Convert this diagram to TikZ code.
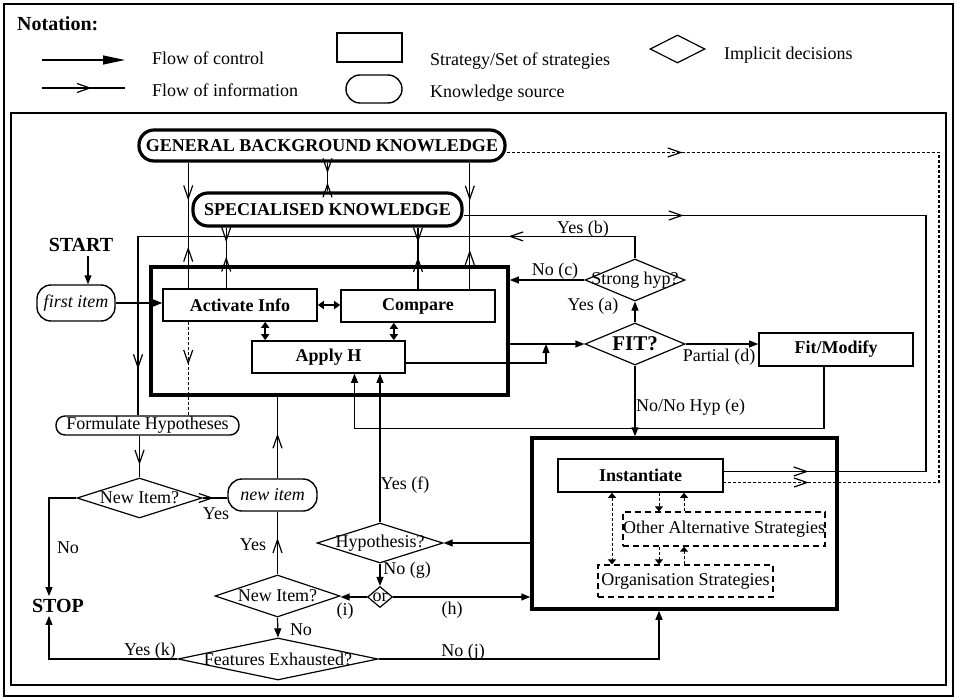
\documentclass[tikz,border=0pt]{standalone}
\usepackage{fontspec}
\setmainfont{Liberation Serif}
\usetikzlibrary{arrows.meta,shapes.geometric,decorations.markings}

\newcommand{\diafont}{\fontsize{18}{21}\selectfont}

\tikzset{
  every node/.style={font=\diafont, inner sep=0pt},
  ctl/.tip={Triangle[length=9pt,width=7pt]},
  bt/.tip={Triangle[length=6pt,width=8pt]},
  inf/.tip={Straight Barb[length=13pt,width=9pt]},
  small/.tip={Triangle[length=5pt,width=8pt]},
  flow/.style={line width=1.2pt},
  ctrl/.style={flow, -{ctl}},
  both/.style={line width=2pt, {bt}-{bt}},
  dashpat/.style={dash pattern=on 3pt off 2pt},
  fwd/.style={postaction={solid,decorate,decoration={markings,mark=at position #1 with {\arrow{inf}}}}},
  bwd/.style={postaction={solid,decorate,decoration={markings,mark=at position #1 with {\arrowreversed{inf}}}}},
  strat/.style={draw, line width=1.6pt, font=\diafont\bfseries},
  stratset/.style={draw, line width=3.5pt},
  altstrat/.style={draw, line width=1.2pt, dash pattern=on 6pt off 4pt},
  ksrc/.style={draw, line width=1.4pt, rounded corners=14pt},
  kbase/.style={draw, line width=3.2pt, rounded corners=15pt, font=\diafont\bfseries},
  decide/.style={draw, shape=diamond, line width=1.2pt}
}

\begin{document}
\begin{tikzpicture}[x=1pt,y=-1pt]
  \useasboundingbox (0,0) rectangle (956,698);

  % frames
  \draw[line width=2pt] (4,4) rectangle (953,696);
  \draw[line width=1.5pt] (11,113) rectangle (946,685);

  % notation
  \node[anchor=west, font=\fontsize{20}{22}\selectfont\bfseries] (nothead) at (17,24) {Notation:};
  \coordinate (ctlA) at (42,60);
  \coordinate (ctlB) at (125,60);
  \coordinate (infA) at (42,88);
  \coordinate (infB) at (125,88);
  \draw[flow, -{Triangle[length=22pt,width=9pt]}] (ctlA) -- (ctlB);
  \draw[flow, fwd=0.6] (infA) -- (infB);
  \node[anchor=west] (nctl) at (152,58) {Flow of control};
  \node[anchor=west] (ninf) at (152,90) {Flow of information};
  \node[draw, line width=1.2pt, minimum width=65pt, minimum height=29pt] (nstrat) at (369.5,47.5) {};
  \node[anchor=west] (nstrattxt) at (430,61) {Strategy/Set of strategies};
  \node[ksrc, minimum width=56pt, minimum height=28pt] (nksrc) at (374,89) {};
  \node[anchor=west] (nksrctxt) at (430,93) {Knowledge source};
  \node[decide, minimum width=55pt, minimum height=28pt] (ndec) at (677.5,49) {};
  \node[anchor=west] (ndectxt) at (724,55) {Implicit decisions};

  % knowledge sources
  \node[kbase, minimum width=366pt, minimum height=31pt] (genknow) at (322,145.5) {GENERAL BACKGROUND KNOWLEDGE};
  \node[kbase, minimum width=269pt, minimum height=33pt] (specknow) at (327.5,209.5) {SPECIALISED KNOWLEDGE};

  % sets of strategies
  \node[stratset, minimum width=357pt, minimum height=128pt] (stratA) at (329.5,331) {};
  \node[stratset, minimum width=305pt, minimum height=171pt] (stratB) at (684.5,523.5) {};

  % strategies
  \node[strat, minimum width=154pt, minimum height=32pt] (activate) at (240,305) {Activate Info};
  \node[strat, minimum width=154pt, minimum height=32pt] (compare) at (418,306) {Compare};
  \node[strat, minimum width=153pt, minimum height=32pt] (applyh) at (328.5,357) {Apply H};
  \node[strat, minimum width=154pt, minimum height=33pt] (fitmod) at (836,349.5) {Fit/Modify};
  \node[strat, minimum width=165pt, minimum height=33pt] (instant) at (640.5,475.5) {Instantiate};
  \node[altstrat, minimum width=200pt, minimum height=34pt] (otheralt) at (724,529) {Other Alternative Strategies};
  \node[altstrat, minimum width=175pt, minimum height=32pt] (organise) at (685.5,581) {Organisation Strategies};

  % decisions
  \node[decide, minimum width=100pt, minimum height=42pt] (strong) at (635,280) {\makebox[0pt]{Strong hyp?}};
  \node[decide, minimum width=100pt, minimum height=42pt, font=\fontsize{21}{23}\selectfont\bfseries] (fit) at (635,344) {\makebox[0pt]{FIT?}};
  \node[decide, minimum width=126pt, minimum height=40pt] (hyp) at (380,543) {\makebox[0pt]{Hypothesis?}};
  \node[decide, minimum width=25pt, minimum height=21pt] (orsel) at (380,597) {\makebox[0pt]{or}};
  \node[decide, minimum width=125pt, minimum height=42pt] (newqb) at (277.5,596) {\makebox[0pt]{New Item?}};
  \node[decide, minimum width=125pt, minimum height=40pt] (newqa) at (139.5,498) {\makebox[0pt]{New Item?}};
  \node[decide, minimum width=200pt, minimum height=42pt] (features) at (278,659) {\makebox[0pt]{Features Exhausted?}};

  % start, stop and items
  \node[font=\fontsize{20}{22}\selectfont\bfseries] (start) at (81,245) {START};
  \node[font=\fontsize{20}{22}\selectfont\bfseries, inner sep=3pt] (stop) at (58,606) {STOP};
  \node[ksrc, minimum width=78pt, minimum height=36pt, font=\diafont\itshape] (first) at (76,303) {first item};
  \node[ksrc, minimum width=89pt, minimum height=32pt, font=\diafont\itshape] (newitem) at (272.5,495) {new item};
  \node[ksrc, rounded corners=9pt, minimum width=183pt, minimum height=19pt] (formhyp) at (147.5,425.5) {Formulate Hypotheses};

  % control inside the first set
  \draw[ctrl, shorten <=4pt] ([xshift=7pt]start.south) -- ([xshift=7pt]start.south |- first.north);
  \draw[ctrl] (first.east) -- (first.east -| activate.west);
  \draw[both] (activate.east) -- (activate.east -| compare.west);
  \draw[both] ([xshift=14pt]applyh.north west) -- ([xshift=14pt]applyh.north west |- activate.south);
  \draw[both] ([xshift=-12pt]applyh.north east) -- ([xshift=-12pt]applyh.north east |- compare.south);

  % knowledge flows
  \draw[flow, fwd=0.33, bwd=0.70] ([xshift=26pt]activate.north west) -- ([xshift=26pt]activate.north west |- genknow.south);
  \draw[flow, fwd=0.52, bwd=0.76] ([xshift=64pt]activate.north west) -- ([xshift=64pt]activate.north west |- specknow.south);
  \draw[flow, fwd=0.52, bwd=0.76] (compare.north) -- (compare.north |- specknow.south);
  \draw[flow, fwd=0.31, bwd=0.70] ([xshift=-26pt]compare.north east) -- ([xshift=-26pt]compare.north east |- genknow.south);
  \draw[flow, fwd=0.31, bwd=0.63] (specknow.north) -- (specknow.north |- genknow.south);

  \coordinate (skx) at (926,0);
  \coordinate (gbx) at (939,0);
  \draw[flow, fwd=0.239, bwd=0.908] ([yshift=-6pt]specknow.east) -- ([yshift=-6pt]specknow.east -| skx) |- ([yshift=4pt]instant.east);
  \draw[flow, dashpat, fwd=0.18, bwd=0.913] ([yshift=-7pt]genknow.east) -- ([yshift=-7pt]genknow.east -| gbx) |- ([yshift=-7pt]instant.east);
  \draw[flow, dashpat, fwd=0.46] ([xshift=26pt]activate.south west) -- ([xshift=26pt]activate.south west |- formhyp.north);

  % strong hypothesis and fit
  \draw[flow, fwd=0.213, fwd=0.934] (strong.north) -- ++(0,-22) -| ([xshift=-9.5pt]formhyp.north);
  \node (lblyesb) at (583,229) {Yes (b)};
  \draw[ctrl] (strong.west) -- (strong.west -| stratA.east);
  \node (lblnoc) at (555,271) {No (c)};
  \draw[ctrl] (fit.north) -- (strong.south);
  \node (lblyesa) at (593,306) {Yes (a)};
  \draw[ctrl] (fit.west -| stratA.east) -- (fit.west);
  \coordinate (fitjoin) at (546,344);
  \draw[ctrl] ([yshift=-6pt]applyh.east) -| (fitjoin);
  \draw[ctrl] (fit.east) -- (fit.east -| fitmod.west);
  \node (lblpartial) at (719,357) {Partial (d)};
  \draw[ctrl] ([xshift=-12pt]fitmod.south) -- ++(0,62) -| ([xshift=26pt]applyh.south);
  \draw[ctrl] (fit.south) -- (fit.south |- stratB.north);
  \node[anchor=west] (lblnoe) at (636,407) {No/No Hyp (e)};

  % hypothesis and new items
  \draw[ctrl] (hyp.east -| stratB.west) -- (hyp.east);
  \draw[ctrl] (hyp.north) -- (hyp.north |- applyh.south);
  \node (lblyesf) at (405,485) {Yes (f)};
  \draw[ctrl] (hyp.south) -- (orsel.north);
  \node (lblnog) at (407,570) {No (g)};
  \draw[ctrl] (orsel.west) -- (orsel.west -| newqb.east);
  \node (lbli) at (345,611) {(i)};
  \draw[ctrl] (orsel.east) -- (orsel.east -| stratB.west);
  \node (lblh) at (452,610) {(h)};
  \draw[flow, fwd=0.58] (newqb.north) -- (newqb.north |- newitem.south);
  \draw[flow, fwd=0.55] (newqb.north |- newitem.north) -- (newqb.north |- stratA.south);
  \node (lblyesnew) at (253,545) {Yes};
  \draw[flow, fwd=0.7] (newqa.north |- formhyp.south) -- (newqa.north);
  \draw[flow, fwd=0.45] (newqa.east) -- (newqa.east -| newitem.west);
  \node (lblyesq) at (216,514) {Yes};
  \draw[ctrl] (newqa.west) -| ([xshift=-9pt]stop.north);
  \node (lblnoq) at (68,548) {No};
  \draw[ctrl] (newqb.south) -- (features.north);
  \node (lblnob) at (301,630) {No};
  \draw[ctrl] (features.west) -| ([xshift=-9pt]stop.south);
  \node (lblyesk) at (150,651) {Yes (k)};
  \draw[ctrl] (features.east) -| ([xshift=-25.5pt]stratB.south);
  \node (lblnoj) at (463,652) {No (j)};

  % inside the second set
  \coordinate (dnx) at (659,0);
  \coordinate (upx) at (684,0);
  \draw[line width=1pt, dashpat, {small}-{small}] ([xshift=-28.5pt]instant.south) -- ([xshift=-28.5pt]instant.south |- organise.north);
  \foreach \hi/\lo in {instant/otheralt, otheralt/organise} {
    \draw[line width=1pt, dashpat, -{small}] (\hi.south -| dnx) -- (\lo.north -| dnx);
    \draw[line width=1pt, dashpat, -{small}] (\lo.north -| upx) -- (\hi.south -| upx);
  }
\end{tikzpicture}
\end{document}
